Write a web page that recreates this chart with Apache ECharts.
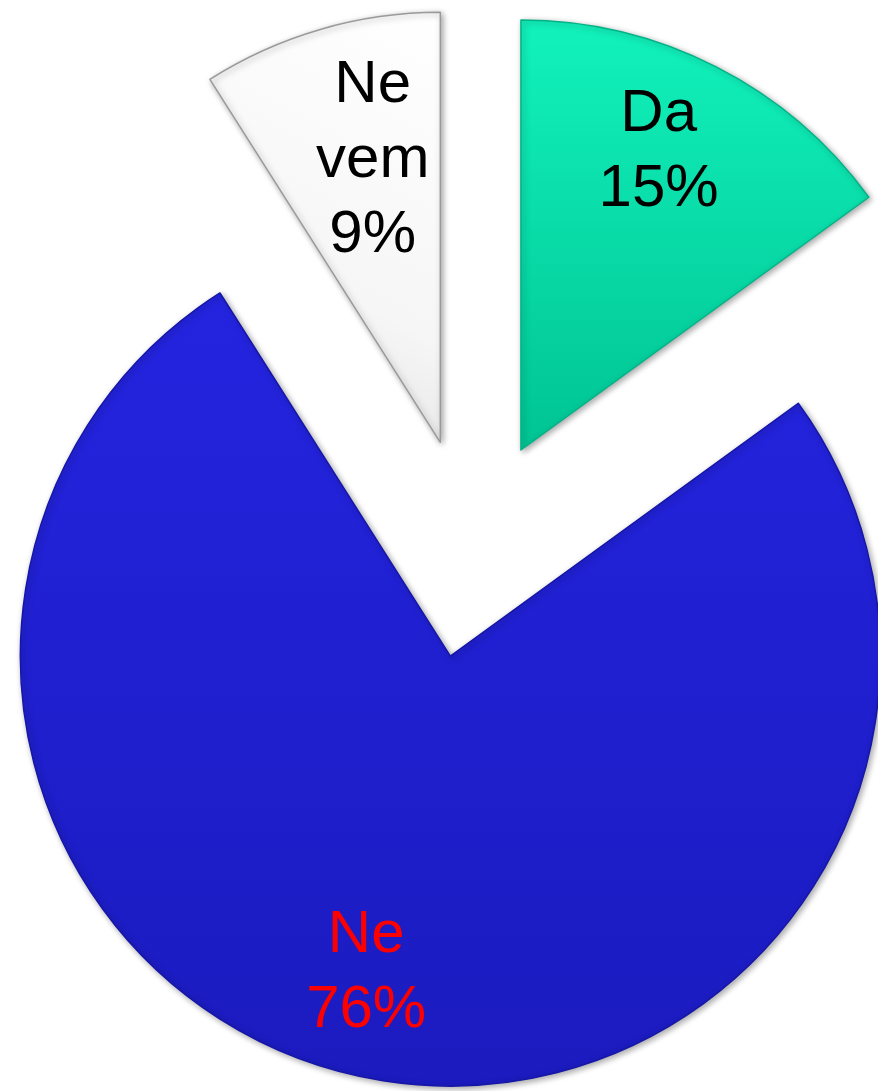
<!DOCTYPE html>
<html>
<head>
<meta charset="utf-8">
<style>html,body{margin:0;padding:0;background:#fff;}#c{width:878px;height:1091px;}</style>
<script src="https://cdn.jsdelivr.net/npm/echarts@6/dist/echarts.min.js"></script>
</head>
<body>
<div id="c"></div>
<script>
const categories = ['Da', 'Ne', 'Ne vem'];
const labelLines = [['Da'], ['Ne'], ['Ne', 'vem']];
const values = [15, 76, 9];
const labelColors = ['#000000', '#ff0000', '#000000'];

const fills = [
  new echarts.graphic.LinearGradient(0, 0, 0, 1, [{offset: 0, color: '#12f2bc'}, {offset: 1, color: '#00c493'}]),
  new echarts.graphic.LinearGradient(0, 0, 0, 1, [{offset: 0, color: '#2424e0'}, {offset: 1, color: '#1b1bbf'}]),
  new echarts.graphic.LinearGradient(1, 0, 0, 1, [{offset: 0, color: '#ffffff'}, {offset: 0.6, color: '#f6f6f6'}, {offset: 1, color: '#dcdcdc'}])
];
const borders = ['#00b386', '#1616a8', '#9a9a9a'];
// horizontal nudges (padding) and vertical spacers (top, bottom)
const pads = [[0, 26, 0, 0], [0, 44, 0, 0], [0, 0, 0, 50]];
const spacers = [[0, 4], [0, 18], [74, 0]];

const center = [471, 548];
const R = 430;
const off = 110;

function fmt(i) {
  const parts = [];
  if (spacers[i][0]) parts.push('{sp' + i + 't| }');
  labelLines[i].forEach(l => parts.push('{t|' + l + '}'));
  parts.push('{t|' + values[i] + '%}');
  if (spacers[i][1]) parts.push('{sp' + i + 'b| }');
  return parts.join('\n');
}
function rich(i) {
  const r = {t: {color: labelColors[i], fontFamily: 'Liberation Sans, Arial, sans-serif', fontSize: 60, lineHeight: 75}};
  r['sp' + i + 't'] = {fontSize: 1, lineHeight: spacers[i][0]};
  r['sp' + i + 'b'] = {fontSize: 1, lineHeight: spacers[i][1]};
  return r;
}

const chart = echarts.init(document.getElementById('c'), null, {renderer: 'canvas'});
chart.setOption({
  animation: false,
  series: [
    {
      type: 'pie',
      center: center,
      radius: [0, R],
      startAngle: 90,
      clockwise: true,
      selectedMode: 'multiple',
      selectedOffset: off,
      silent: true,
      label: {show: false},
      labelLine: {show: false},
      data: categories.map((c, i) => ({
        name: c, value: values[i], selected: true,
        itemStyle: {color: fills[i], borderColor: borders[i], borderWidth: 1.5,
          shadowColor: 'rgba(0,0,0,0.35)', shadowBlur: 6, shadowOffsetX: 2, shadowOffsetY: 2}
      }))
    },
    {
      type: 'pie',
      center: center,
      radius: [228, R],
      startAngle: 90,
      clockwise: true,
      selectedMode: 'multiple',
      selectedOffset: off,
      silent: true,
      itemStyle: {color: 'rgba(0,0,0,0)'},
      labelLine: {show: false},
      data: categories.map((c, i) => ({
        name: c, value: values[i], selected: true,
        label: {
          show: true, position: 'inside',
          formatter: fmt(i),
          rich: rich(i),
          padding: pads[i]
        }
      }))
    }
  ]
});
</script>
</body>
</html>
